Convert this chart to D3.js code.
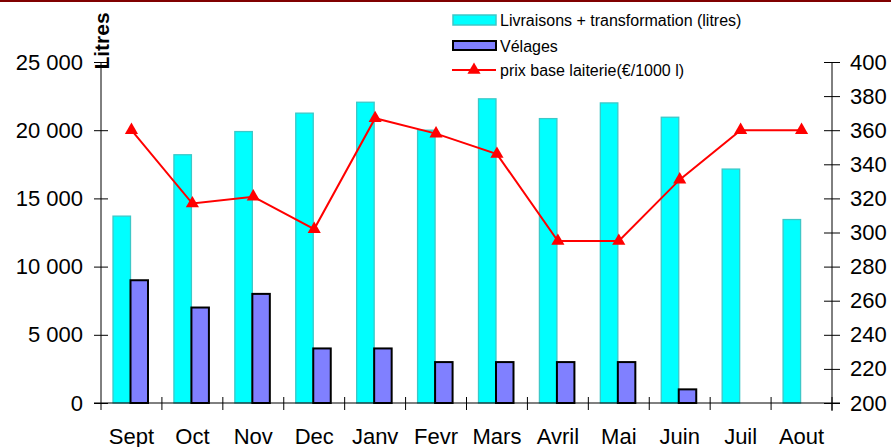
<!DOCTYPE html>
<html>
<head>
<meta charset="utf-8">
<script src="https://cdn.jsdelivr.net/npm/d3@7"></script>
<style>
  body { margin: 0; background: #fff; }
  svg { display: block; font-family: "Liberation Sans", Arial, sans-serif; }
</style>
</head>
<body>
<div id="chart"></div>
<script>
/* Livraisons, vélages et prix du lait par mois */

const months = ["Sept", "Oct", "Nov", "Dec", "Janv", "Fevr", "Mars", "Avril", "Mai", "Juin", "Juil", "Aout"];
const livraisons = [13700, 18200, 19900, 21250, 22050, 20000, 22300, 20850, 22000, 20950, 17150, 13450];
const velages = [9000, 7000, 8000, 4000, 4000, 3000, 3000, 3000, 3000, 1000, 0, 0];
const prix = [360, 317, 321, 302, 367, 358, 346, 295, 295, 331, 360, 360];
const litresTicks = [0, 5000, 10000, 15000, 20000, 25000];
const prixTicks = d3.range(200, 401, 20);

const width = 891, height = 447,
      margin = ({top: 62, right: 59, bottom: 44, left: 101});

const fr = d3.formatLocale({decimal: ",", thousands: " ", grouping: [3], currency: ["", ""]});
const fmt = fr.format(",");

let svg = d3.select("#chart")
    .append("svg")
    .attr("width", width)
    .attr("height", height)
    .attr("viewBox", [0, 0, width, height]);

// bande rouge foncé en haut
svg.append("rect")
    .attr("x", 0).attr("y", 0)
    .attr("width", width).attr("height", 2)
    .attr("fill", "#800000");

let x = d3.scaleBand()
    .domain(months)
    .range([margin.left, width - margin.right]);

let xs = d3.scaleBand()
    .domain(["liv", "vel"])
    .range([12, 47]);

let y = d3.scaleLinear()
    .domain([0, 25000])
    .range([height - margin.bottom, margin.top]);

let y2 = d3.scaleLinear()
    .domain([200, 400])
    .range([height - margin.bottom, margin.top]);

// barres livraisons
svg.append("g").selectAll("rect")
    .data(months)
    .join("rect")
    .attr("x", (d, i) => x(d) + xs("liv"))
    .attr("width", xs.bandwidth())
    .attr("y", (d, i) => y(livraisons[i]))
    .attr("height", (d, i) => y(0) - y(livraisons[i]))
    .attr("fill", "#00ffff")
    .attr("stroke", "#3cc8c8")
    .attr("stroke-width", 1.3);

// barres vélages
svg.append("g").selectAll("rect")
    .data(months.filter((d, i) => velages[i] > 0))
    .join("rect")
    .attr("x", d => x(d) + xs("vel"))
    .attr("width", xs.bandwidth())
    .attr("y", d => y(velages[months.indexOf(d)]))
    .attr("height", d => y(0) - y(velages[months.indexOf(d)]))
    .attr("fill", "#8080ff")
    .attr("stroke", "#000")
    .attr("stroke-width", 2);

// axe gauche
const yAxis = g => g
    .attr("transform", `translate(${margin.left},0)`)
    .call(d3.axisLeft(y).tickValues(litresTicks).tickFormat(fmt).tickSize(7).tickPadding(11))
    .call(g => g.select(".domain").remove())
    .call(g => g.selectAll(".tick line").attr("x2", -7).attr("x1", 7))
    .call(g => g.append("line").attr("y1", y(0)).attr("y2", y(25000)).attr("stroke", "#000"));

// axe droit
const y2Axis = g => g
    .attr("transform", `translate(${width - margin.right},0)`)
    .call(d3.axisRight(y2).tickValues(prixTicks).tickSize(8).tickPadding(10))
    .call(g => g.select(".domain").remove())
    .call(g => g.selectAll(".tick line").attr("x1", -8).attr("x2", 8))
    .call(g => g.append("line").attr("y1", y2(200) + 8).attr("y2", y2(400)).attr("stroke", "#000"));

// axe du bas
const xAxis = g => g
    .attr("transform", `translate(0,${height - margin.bottom})`)
    .call(d3.axisBottom(x).tickSize(0).tickPadding(25))
    .call(g => g.select(".domain").remove())
    .call(g => g.append("line").attr("x1", margin.left - 7).attr("x2", width - margin.right + 8).attr("stroke", "#000"))
    .call(g => g.selectAll(".sep")
        .data(months.slice(1).concat(["end"]))
        .join("line")
        .attr("class", "sep")
        .attr("x1", d => d === "end" ? x.range()[1] : x(d))
        .attr("x2", d => d === "end" ? x.range()[1] : x(d))
        .attr("y1", -6).attr("y2", 7)
        .attr("stroke", "#000"))
    .call(g => g.append("line").attr("x1", margin.left).attr("x2", margin.left).attr("y1", 0).attr("y2", 7).attr("stroke", "#000"));

svg.append("g").call(xAxis);
svg.append("g").call(yAxis);
svg.append("g").call(y2Axis);

svg.selectAll(".tick text")
    .attr("font-size", 22)
    .attr("font-family", "Liberation Sans, Arial, sans-serif")
    .attr("fill", "#000");

// courbe prix
const line = d3.line()
    .x((d, i) => x(months[i]) + x.bandwidth() / 2)
    .y(d => y2(d));

svg.append("path")
    .datum(prix)
    .attr("d", line)
    .attr("fill", "none")
    .attr("stroke", "#ff0000")
    .attr("stroke-width", 2);

const tri = d3.symbol().type(d3.symbolTriangle).size(75);

svg.append("g").selectAll("path")
    .data(prix)
    .join("path")
    .attr("d", tri)
    .attr("transform", (d, i) => `translate(${x(months[i]) + x.bandwidth() / 2},${y2(d)})`)
    .attr("fill", "#ff0000");

// titre axe
svg.append("text")
    .attr("transform", `translate(109,41) rotate(-90)`)
    .attr("text-anchor", "middle")
    .attr("font-size", 21)
    .attr("font-weight", "bold")
    .text("Litres");

// légende
const legend = svg.append("g").attr("font-size", 16);

legend.append("rect")
    .attr("x", 453).attr("y", 15).attr("width", 43).attr("height", 10)
    .attr("fill", "#00ffff").attr("stroke", "#3cc8c8").attr("stroke-width", 1.5);
legend.append("text").attr("x", 500).attr("y", 26).text("Livraisons + transformation (litres)");

legend.append("rect")
    .attr("x", 453).attr("y", 41).attr("width", 43).attr("height", 9)
    .attr("fill", "#8080ff").attr("stroke", "#000").attr("stroke-width", 2);
legend.append("text").attr("x", 500).attr("y", 51.5).text("Vélages");

legend.append("line")
    .attr("x1", 452).attr("x2", 496).attr("y1", 70).attr("y2", 70)
    .attr("stroke", "#ff0000").attr("stroke-width", 2);
legend.append("path")
    .attr("d", tri)
    .attr("transform", "translate(474,70)")
    .attr("fill", "#ff0000");
legend.append("text").attr("x", 500).attr("y", 76).text("prix base laiterie(€/1000 l)");
</script>
</body>
</html>
